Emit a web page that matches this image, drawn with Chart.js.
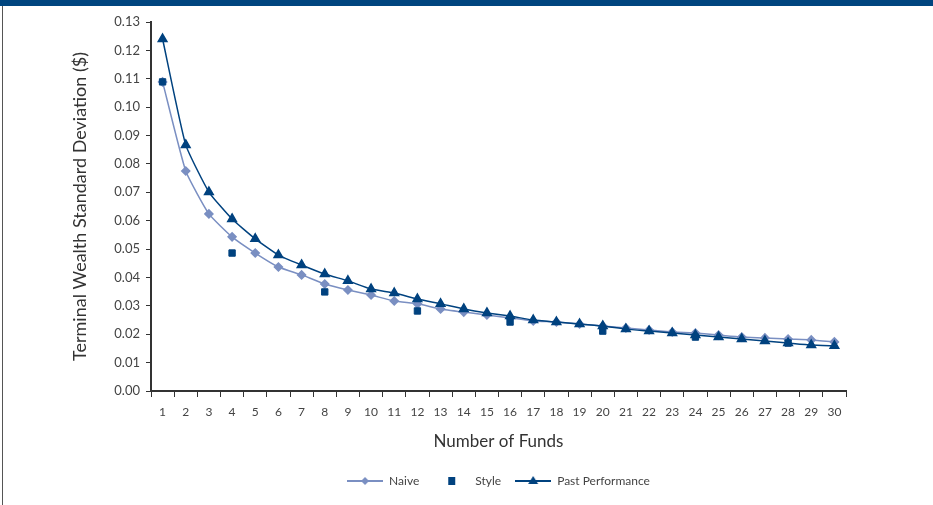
<!DOCTYPE html>
<html>
<head>
<meta charset="utf-8">
<script src="https://cdn.jsdelivr.net/npm/chart.js@4"></script>
<style>
    html, body { margin: 0; padding: 0; background: #fff; }
    #wrap { position: relative; width: 933px; height: 505px; overflow: hidden; }
    #band { position: absolute; left: 0; top: 0; width: 933px; height: 6px; background: #00457f; }
    #edge { position: absolute; left: 2px; top: 6px; width: 1px; height: 499px; background: #555; }
    #chart { position: absolute; left: 0; top: 0; }
</style>
</head>
<body>
<div id="wrap">
    <canvas id="chart" width="933" height="505"></canvas>
    <div id="band"></div>
    <div id="edge"></div>
</div>
<script>
const funds = Array.from({ length: 30 }, (_, i) => String(i + 1));

const naive = [0.1089, 0.0775, 0.0624, 0.0543, 0.0486, 0.0437, 0.0409, 0.0377, 0.0356, 0.0338,
    0.0317, 0.0307, 0.0289, 0.0278, 0.0268, 0.0257, 0.0247, 0.0243, 0.0236, 0.0229,
    0.0222, 0.0215, 0.0208, 0.0204, 0.0197, 0.0190, 0.0187, 0.0183, 0.0180, 0.0173];

const style = [0.1089, null, null, 0.0486, null, null, null, 0.0349, null, null,
    null, 0.0282, null, null, null, 0.0243, null, null, null, 0.0211,
    null, null, null, 0.0190, null, null, null, 0.0169, null, null];

const pastPerformance = [0.1240, 0.0867, 0.0701, 0.0606, 0.0536, 0.0479, 0.0444, 0.0412, 0.0388, 0.0359,
    0.0345, 0.0324, 0.0307, 0.0289, 0.0275, 0.0264, 0.0250, 0.0243, 0.0236, 0.0229,
    0.0218, 0.0211, 0.0204, 0.0197, 0.0190, 0.0183, 0.0176, 0.0169, 0.0162, 0.0159];

const naiveColor = '#7a8fc2';
const darkBlue = '#00427f';
const fontFamily = 'Lato, "Open Sans", sans-serif';

// small images for the legend entries (line + marker like the original)
function legendIcon(kind, color) {
    const c = document.createElement('canvas');
    c.width = 36;
    c.height = 12;
    const g = c.getContext('2d');
    g.fillStyle = color;
    g.strokeStyle = color;
    if (kind !== 'square') {
        g.lineWidth = 2;
        g.beginPath();
        g.moveTo(0, 6);
        g.lineTo(36, 6);
        g.stroke();
    }
    g.beginPath();
    if (kind === 'diamond') {
        g.moveTo(18, 2); g.lineTo(22, 6); g.lineTo(18, 10); g.lineTo(14, 6);
    } else if (kind === 'triangle') {
        g.moveTo(18, 1); g.lineTo(23, 9); g.lineTo(13, 9);
    } else {
        g.rect(15, 2, 7, 8);
    }
    g.closePath();
    g.fill();
    return c;
}

const icons = [legendIcon('diamond', naiveColor), legendIcon('square', darkBlue), legendIcon('triangle', darkBlue)];

new Chart(document.getElementById('chart'), {
    type: 'line',
    data: {
        labels: funds,
        datasets: [
            {
                label: 'Naive',
                data: naive,
                borderColor: naiveColor,
                backgroundColor: naiveColor,
                borderWidth: 1.5,
                pointStyle: 'rectRot',
                pointRadius: 4,
                tension: 0.15,
                order: 3
            },
            {
                label: 'Style',
                data: style,
                borderColor: darkBlue,
                backgroundColor: darkBlue,
                showLine: false,
                pointStyle: 'rect',
                pointRadius: 4.5,
                order: 2
            },
            {
                label: 'Past Performance',
                data: pastPerformance,
                borderColor: darkBlue,
                backgroundColor: darkBlue,
                borderWidth: 1.5,
                pointStyle: 'triangle',
                pointRadius: 5,
                tension: 0.15,
                order: 1
            }
        ]
    },
    options: {
        responsive: false,
        animation: false,
        layout: { padding: { left: 0, right: 87, top: 22, bottom: 8 } },
        plugins: {
            tooltip: { enabled: false },
            legend: {
                position: 'bottom',
                fullSize: false,
                labels: {
                    usePointStyle: true,
                    pointStyleWidth: 36,
                    boxHeight: 12,
                    padding: 14,
                    color: '#444',
                    font: { family: fontFamily, size: 12 },
                    generateLabels: (chart) => chart.data.datasets.map((ds, i) => ({
                        text: ds.label,
                        pointStyle: icons[i],
                        fillStyle: ds.backgroundColor,
                        strokeStyle: ds.borderColor,
                        lineWidth: 0,
                        fontColor: '#444',
                        datasetIndex: i
                    }))
                }
            }
        },
        scales: {
            x: {
                type: 'category',
                offset: true,
                grid: { offset: true, drawOnChartArea: false, drawTicks: true, tickLength: 6, color: '#333' },
                border: { color: '#333', width: 2 },
                ticks: { padding: 8, color: '#444', maxRotation: 0, autoSkip: false, font: { family: fontFamily, size: 12 } },
                title: {
                    display: true,
                    text: 'Number of Funds',
                    color: '#333',
                    font: { family: fontFamily, size: 17 },
                    padding: { top: 0, bottom: 9 }
                },
                afterFit: (scale) => { scale.height = 70; }
            },
            y: {
                min: 0,
                max: 0.13,
                grid: { drawOnChartArea: false, drawTicks: true, tickLength: 5, color: '#333' },
                border: { color: '#333', width: 2 },
                ticks: {
                    stepSize: 0.01,
                    padding: 6,
                    color: '#444',
                    font: { family: fontFamily, size: 13 },
                    callback: (v) => v.toFixed(2)
                },
                title: {
                    display: true,
                    text: 'Terminal Wealth Standard Deviation ($)',
                    color: '#333',
                    font: { family: fontFamily, size: 18 },
                    padding: { top: 69, bottom: 0 }
                },
                afterFit: (scale) => { scale.width = 151; }
            }
        }
    }
});
</script>
</body>
</html>
